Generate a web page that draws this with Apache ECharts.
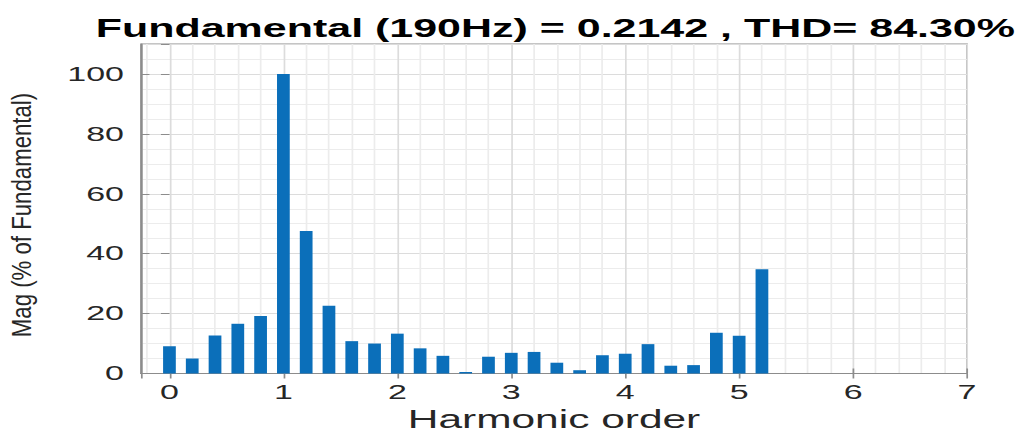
<!DOCTYPE html>
<html>
<head>
<meta charset="utf-8">
<title>Harmonic spectrum</title>
<script src="https://cdn.jsdelivr.net/npm/echarts@6/dist/echarts.min.js"></script>
<style>
  html, body { margin: 0; padding: 0; background: #fff; overflow: hidden; width: 1019px; height: 432px; }
  /* the figure is laid out narrow and widened horizontally, giving the wide lettering */
  #chart { width: 600px; height: 432px; transform: scaleX(1.69833); transform-origin: 0 0; }
</style>
</head>
<body>
<div id="chart"></div>
<script>
// Harmonic order of each bar (multiples of the 190 Hz fundamental)
const harmonicOrders = [0, 0.2, 0.4, 0.6, 0.8, 1.0, 1.2, 1.4, 1.6, 1.8, 2.0, 2.2, 2.4, 2.6,
                        2.8, 3.0, 3.2, 3.4, 3.6, 3.8, 4.0, 4.2, 4.4, 4.6, 4.8, 5.0, 5.2];
// Magnitude of each component, % of fundamental
const magnitudes = [9.1, 5.0, 12.7, 16.6, 19.2, 100, 47.6, 22.6, 10.8, 10.0, 13.3, 8.4, 5.9, 0.5,
                    5.6, 6.9, 7.2, 3.6, 1.1, 6.1, 6.6, 9.8, 2.6, 2.8, 13.6, 12.6, 34.8];

const titleText = 'Fundamental (190Hz) = 0.2142 , THD= 84.30%';
const xAxisName = 'Harmonic order';
const yAxisName = 'Mag (% of Fundamental)';

const FONT = '"Liberation Sans", Arial, Helvetica, sans-serif';
const AXIS_GREY = '#8c8c8c';
const TEXT_GREY = '#262626';

const chart = echarts.init(document.getElementById('chart'), null, { renderer: 'svg' });

const gridBox = { left: 83, right: 30.6, top: 44, bottom: 58.5 };

chart.setOption({
  animation: false,
  backgroundColor: '#fff',
  grid: Object.assign({
    show: true, borderColor: AXIS_GREY, borderWidth: 1, backgroundColor: '#fff',
    containLabel: false, outerBoundsMode: 'none'
  }, gridBox),
  graphic: [
    {
      type: 'text', x: 327, y: 28, silent: true,
      style: {
        text: titleText, fontSize: 25.3, fontWeight: 'bold', fontFamily: FONT, fill: '#000',
        align: 'center', verticalAlign: 'middle', textAlign: 'center', textVerticalAlign: 'middle'
      }
    },
    {
      type: 'text', x: 13, y: 215, rotation: Math.PI / 2, scaleX: 1.01, scaleY: 0.72, silent: true,
      style: {
        text: yAxisName, fontSize: 22, fontFamily: FONT, fill: TEXT_GREY,
        align: 'center', verticalAlign: 'middle', textAlign: 'center', textVerticalAlign: 'middle'
      }
    }
  ],
  xAxis: [
    {
      type: 'value', position: 'bottom', min: -0.25, max: 7, splitNumber: 7,
      name: xAxisName, nameLocation: 'middle', nameGap: 33, nameMoveOverlap: false,
      nameTextStyle: { fontSize: 25, fontFamily: FONT, color: TEXT_GREY },
      axisLine: { show: true, onZero: false, lineStyle: { color: AXIS_GREY, width: 1 } },
      axisTick: { show: true, inside: true, length: 5, lineStyle: { color: AXIS_GREY } },
      axisLabel: { showMinLabel: false, margin: 9, fontSize: 20, fontFamily: FONT, color: TEXT_GREY },
      splitLine: { show: true, lineStyle: { color: '#dcdcdc', width: 1 } },
      minorTick: { show: false, splitNumber: 5 },
      minorSplitLine: { show: true, lineStyle: { color: '#ececec', width: 1 } }
    },
    {
      type: 'value', position: 'top', min: -0.25, max: 7, splitNumber: 7,
      axisLine: { show: false },
      axisTick: { show: true, inside: true, length: 5, lineStyle: { color: AXIS_GREY } },
      axisLabel: { show: false },
      splitLine: { show: false }
    }
  ],
  yAxis: [
    {
      type: 'value', position: 'left', min: 0, max: 110, interval: 20,
      axisLine: { show: true, onZero: false, lineStyle: { color: AXIS_GREY, width: 1 } },
      axisTick: { show: true, inside: true, length: 5, lineStyle: { color: AXIS_GREY } },
      axisLabel: { showMaxLabel: false, margin: 10, fontSize: 20, fontFamily: FONT, color: TEXT_GREY },
      splitLine: { show: true, lineStyle: { color: '#dcdcdc', width: 1 } },
      minorTick: { show: false, splitNumber: 4 },
      minorSplitLine: { show: true, lineStyle: { color: '#ececec', width: 1 } }
    },
    {
      type: 'value', position: 'right', min: 0, max: 110, interval: 20,
      axisLine: { show: false },
      axisTick: { show: true, inside: true, length: 5, lineStyle: { color: AXIS_GREY } },
      axisLabel: { show: false },
      splitLine: { show: false }
    }
  ],
  series: [
    {
      type: 'bar',
      xAxisIndex: 0,
      yAxisIndex: 0,
      barWidth: 7.5,
      itemStyle: { color: '#0b6fba' },
      data: harmonicOrders.map((order, i) => [order, magnitudes[i]])
    }
  ]
});
</script>
</body>
</html>
